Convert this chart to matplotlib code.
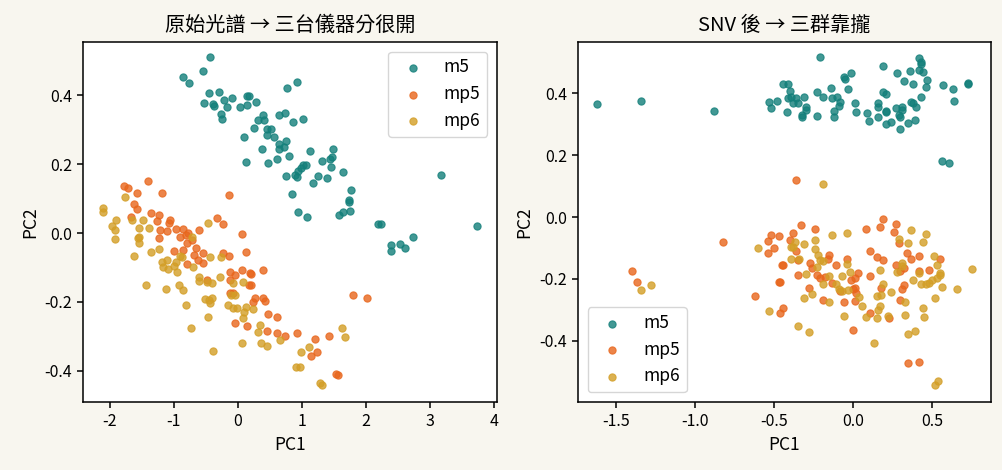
import matplotlib
matplotlib.use("Agg")
import matplotlib.pyplot as plt

plt.rcParams['font.family'] = ['Noto Sans CJK TC', 'DejaVu Sans']
plt.rcParams['axes.unicode_minus'] = False

groups = ['m5', 'mp5', 'mp6']
colors = ['#137f7a', '#e8661c', '#d39e26']

# 原始光譜 PCA
raw_m5_x = [-0.44, -0.54, -0.85, -0.76, -0.45, -0.29, -0.53, -0.39, -0.37, -0.22, -0.17, -0.09, -0.27, -0.25,
            0.04, 0.14, 0.18, 0.15, 0.28, 0.77, 0.92, 0.39, 0.32, 0.41, 0.64, 0.73, 0.86, 1.02, 0.25, 0.45,
            0.51, 0.46, 0.57, 0.10, 0.65, 0.72, 0.76, 0.64, 0.38, 1.13, 1.48, 0.80, 0.61, 0.47, 0.12, 1.31,
            1.44, 1.47, 1.02, 1.07, 1.46, 0.98, 0.94, 0.76, 0.89, 0.92, 1.26, 1.40, 1.64, 1.18, 1.77, 0.85,
            1.73, 1.73, 0.94, 1.08, 1.58, 1.65, 1.75, 3.17, 2.19, 2.23, 3.74, 2.74, 2.40, 2.53, 2.61, 2.39]
raw_m5_y = [0.510, 0.469, 0.452, 0.435, 0.406, 0.409, 0.377, 0.375, 0.367, 0.385, 0.365, 0.391, 0.346, 0.330,
            0.365, 0.397, 0.397, 0.372, 0.380, 0.420, 0.437, 0.341, 0.327, 0.327, 0.341, 0.348, 0.321, 0.330, 0.304, 0.301,
            0.302, 0.283, 0.278, 0.277, 0.259, 0.249, 0.266, 0.243, 0.243, 0.238, 0.243, 0.222, 0.214, 0.204, 0.206, 0.209,
            0.214, 0.220, 0.198, 0.198, 0.190, 0.188, 0.180, 0.165, 0.167, 0.162, 0.165, 0.159, 0.177, 0.144, 0.125, 0.112,
            0.096, 0.090, 0.061, 0.046, 0.053, 0.061, 0.064, 0.167, 0.025, 0.025, 0.020, -0.012, -0.035, -0.032, -0.043, -0.053]

raw_mp5_x = [-1.78, -1.72, -1.40, -1.57, -1.18, -0.14, -1.62, -1.57, -1.67, -1.36, -1.23, -1.27, -1.06, -1.08,
             -0.32, -0.24, -0.60, -0.96, -0.86, -0.78, -1.22, -1.11, 0.07, -1.23, -0.91, -0.81, -0.72, -0.80,
             -0.86, -1.00, -0.69, -0.62, -0.55, -0.54, -0.79, -0.24, -0.14, 0.12, -0.13, -0.05, -0.13, 0.06,
             0.19, 0.20, 0.40, -0.49, 0.18, 0.20, -0.13, -0.08, 0.27, 0.40, 0.42, 0.24, 0.47, 0.61, -0.04,
             0.14, 0.45, 0.61, 0.73, 0.93, 1.20, 1.43, 1.14, 1.23, 1.54, 1.56, 1.80, 2.02, -0.65]
raw_mp5_y = [0.136, 0.130, 0.151, 0.117, 0.116, 0.109, 0.084, 0.069, 0.046, 0.057, 0.052, 0.036, 0.038, 0.028,
             0.043, 0.025, 0.009, 0.011, 0.011, -0.001, 0.009, 0.006, -0.004, -0.015, -0.011, -0.006, -0.020, -0.030,
             -0.049, -0.051, -0.064, -0.078, -0.059, -0.088, -0.090, -0.059, -0.067, -0.055, -0.112, -0.122, -0.136, -0.107,
             -0.117, -0.119, -0.107, -0.136, -0.151, -0.151, -0.175, -0.175, -0.189, -0.189, -0.197, -0.199, -0.235, -0.244, -0.262,
             -0.269, -0.284, -0.291, -0.299, -0.291, -0.307, -0.299, -0.357, -0.346, -0.410, -0.412, -0.180, -0.189, -0.044]

raw_mp6_x = [-1.76, -2.11, -2.11, -1.96, -1.90, -1.92, -1.65, -1.49, -1.54, -1.39, -0.46, -0.71, -1.54, -1.92,
             -1.63, -1.56, -1.54, -1.36, -1.23, -1.18, -1.11, -1.17, -1.09, -0.96, -1.00, -0.95, -0.88, -0.91,
             -0.70, -1.44, -1.13, -0.92, -0.85, -0.81, -0.73, -0.60, -0.60, -0.49, -0.41, -0.43, -0.27, -0.28,
             -0.52, -0.45, -0.40, -0.43, -0.46, -0.39, -0.15, -0.07, -0.02, -0.10, -0.05, -0.07, 0.08, 0.13,
             0.09, 0.08, 0.07, 0.24, 0.34, 0.31, 0.36, 0.45, 0.66, 1.11, 0.98, 0.91, 0.97, 1.29, 1.31, 1.62, 1.67]
raw_mp6_y = [0.103, 0.072, 0.062, 0.020, 0.038, 0.009, 0.038, 0.038, 0.015, 0.014, 0.028, -0.011, -0.012, -0.018,
             -0.067, -0.015, -0.028, -0.056, -0.047, -0.083, -0.078, -0.098, -0.105, -0.083, -0.096, -0.112, -0.069, -0.067,
             -0.098, -0.151, -0.163, -0.151, -0.165, -0.210, -0.276, -0.127, -0.138, -0.143, -0.146, -0.069, -0.070, -0.127,
             -0.192, -0.194, -0.189, -0.204, -0.244, -0.341, -0.209, -0.218, -0.218, -0.180, -0.180, -0.146, -0.141, -0.214,
             -0.228, -0.247, -0.320, -0.220, -0.267, -0.286, -0.320, -0.327, -0.310, -0.331, -0.346, -0.389, -0.389, -0.436, -0.441, -0.276, -0.301]

# SNV 後 PCA
snv_m5_x = [-1.62, -1.34, -0.88, -0.21, -0.53, -0.48, -0.52, -0.44, -0.41, -0.40, -0.41, -0.39, -0.36, -0.31,
            -0.42, -0.38, -0.35, -0.30, -0.30, -0.32, -0.32, -0.23, -0.19, -0.14, -0.13, -0.10, -0.08, -0.09,
            -0.12, -0.12, -0.23, -0.06, -0.05, -0.01, -0.03, 0.01, 0.02, 0.09, 0.10, 0.16, 0.16, 0.16, 0.19,
            0.19, 0.21, 0.21, 0.21, 0.21, 0.24, 0.27, 0.28, 0.30, 0.29, 0.31, 0.31, 0.30, 0.32, 0.36, 0.38,
            0.35, 0.37, 0.38, 0.40, 0.39, 0.42, 0.43, 0.42, 0.44, 0.43, 0.47, 0.46, 0.43, 0.57, 0.63, 0.64,
            0.73, 0.73, 0.56, 0.61]
snv_m5_y = [0.364, 0.374, 0.342, 0.515, 0.370, 0.374, 0.351, 0.429, 0.429, 0.406, 0.383, 0.388, 0.383, 0.388,
            0.338, 0.367, 0.367, 0.356, 0.345, 0.329, 0.322, 0.402, 0.388, 0.418, 0.383, 0.386, 0.370, 0.358,
            0.343, 0.322, 0.326, 0.451, 0.447, 0.464, 0.412, 0.367, 0.338, 0.335, 0.310, 0.367, 0.356, 0.324, 0.487,
            0.404, 0.397, 0.343, 0.340, 0.300, 0.307, 0.351, 0.464, 0.324, 0.329, 0.356, 0.345, 0.284, 0.439, 0.471, 0.428,
            0.302, 0.372, 0.367, 0.354, 0.313, 0.512, 0.501, 0.474, 0.469, 0.494, 0.442, 0.420, 0.386, 0.426, 0.412, 0.374,
            0.431, 0.428, 0.181, 0.175]

snv_mp5_x = [-1.40, -1.37, -0.36, -0.82, -0.52, -0.54, -0.47, -0.50, -0.54, -0.38, -0.40, -0.33, -0.24, -0.36,
             -0.35, -0.45, -0.44, -0.35, -0.47, -0.46, -0.62, -0.44, -0.46, -0.28, -0.27, -0.26, -0.15, -0.16,
             -0.11, -0.04, -0.23, -0.21, -0.18, -0.13, -0.19, -0.06, 0.00, -0.08, 0.19, 0.27, 0.17, 0.08, 0.26,
             0.29, 0.11, 0.15, 0.19, 0.34, 0.37, 0.42, 0.55, 0.27, 0.32, 0.30, 0.42, 0.48, 0.03, 0.11, 0.01,
             -0.01, 0.01, 0.00, 0.18, 0.32, 0.31, 0.02, 0.01, 0.30, 0.11, 0.23, 0.35, 0.42]
snv_mp5_y = [-0.174, -0.211, 0.119, -0.081, -0.058, -0.078, -0.062, -0.101, -0.117, -0.051, -0.074, -0.027, -0.039, -0.109,
             -0.139, -0.156, -0.156, -0.188, -0.211, -0.211, -0.256, -0.293, -0.309, -0.228, -0.149, -0.165, -0.123, -0.136,
             -0.155, -0.135, -0.187, -0.198, -0.193, -0.214, -0.268, -0.275, -0.365, -0.239, -0.007, -0.023, -0.033, -0.040, -0.047,
             -0.085, -0.110, -0.128, -0.139, -0.117, -0.135, -0.126, -0.136, -0.155, -0.165, -0.173, -0.174, -0.171, -0.182, -0.190, -0.198,
             -0.203, -0.230, -0.233, -0.228, -0.220, -0.233, -0.246, -0.271, -0.268, -0.311, -0.327, -0.470, -0.468]

snv_mp6_x = [-1.34, -1.28, -0.19, -0.60, -0.37, -0.39, -0.38, -0.31, -0.24, -0.24, -0.13, -0.04, -0.39, -0.34,
             -0.22, -0.21, -0.23, -0.19, -0.30, -0.15, -0.19, -0.11, -0.07, -0.04, -0.02, -0.09, -0.07, -0.31,
             -0.26, -0.15, -0.06, -0.53, -0.35, -0.28, 0.37, 0.46, 0.29, 0.35, 0.44, 0.17, 0.28, 0.31, 0.31,
             0.51, 0.53, 0.55, 0.55, 0.42, 0.43, 0.38, 0.46, 0.48, 0.50, 0.53, 0.56, 0.75, 0.66, -0.03, 0.04,
             0.19, 0.18, 0.15, 0.24, 0.06, 0.17, 0.16, 0.33, 0.44, 0.08, 0.15, 0.22, 0.33, 0.45, 0.52, 0.39,
             0.35, 0.13, 0.52, 0.54]
snv_mp6_y = [-0.235, -0.220, 0.106, -0.101, -0.080, -0.098, -0.098, -0.087, -0.074, -0.104, -0.059, -0.052, -0.135, -0.135,
             -0.123, -0.139, -0.162, -0.142, -0.184, -0.190, -0.216, -0.216, -0.190, -0.152, -0.176, -0.233, -0.238, -0.260,
             -0.249, -0.275, -0.319, -0.303, -0.351, -0.371, -0.042, -0.055, -0.071, -0.084, -0.080, -0.171, -0.176, -0.149, -0.158,
             -0.126, -0.156, -0.180, -0.187, -0.182, -0.216, -0.203, -0.216, -0.212, -0.203, -0.198, -0.227, -0.169, -0.233, -0.235, -0.257,
             -0.217, -0.252, -0.255, -0.243, -0.287, -0.287, -0.300, -0.275, -0.295, -0.322, -0.327, -0.319, -0.316, -0.324, -0.260, -0.367,
             -0.377, -0.407, -0.542, -0.529]

raw = [(raw_m5_x, raw_m5_y), (raw_mp5_x, raw_mp5_y), (raw_mp6_x, raw_mp6_y)]
snv = [(snv_m5_x, snv_m5_y), (snv_mp5_x, snv_mp5_y), (snv_mp6_x, snv_mp6_y)]

fig = plt.figure(figsize=(10.03, 4.7), dpi=100, facecolor='#f8f6ef')
ax1 = fig.add_axes([0.0828, 0.1447, 0.4127, 0.766])
ax2 = fig.add_axes([0.5763, 0.1447, 0.4117, 0.766])

for ax, data, title, loc in [(ax1, raw, '原始光譜 → 三台儀器分很開', 'upper right'),
                             (ax2, snv, 'SNV 後 → 三群靠攏', 'lower left')]:
    for name, c, (xs, ys) in zip(groups, colors, data):
        ax.scatter(xs, ys, s=27, color=c, alpha=0.8, label=name, linewidths=0.8)
    ax.set_title(title, fontsize=14.5, pad=8)
    ax.set_xlabel('PC1', fontsize=12.5)
    ax.set_ylabel('PC2', fontsize=12.5)
    ax.tick_params(labelsize=11.5, width=1.1, length=4.5)
    for sp in ax.spines.values():
        sp.set_linewidth(1.1)
    ax.legend(loc=loc, fontsize=12.5, borderaxespad=0.55)

ax1.set_xlim(-2.42, 4.05)
ax1.set_ylim(-0.49, 0.554)
ax2.set_xlim(-1.74, 0.873)
ax2.set_ylim(-0.597, 0.565)

plt.savefig('out.png', dpi=100, facecolor=fig.get_facecolor())
